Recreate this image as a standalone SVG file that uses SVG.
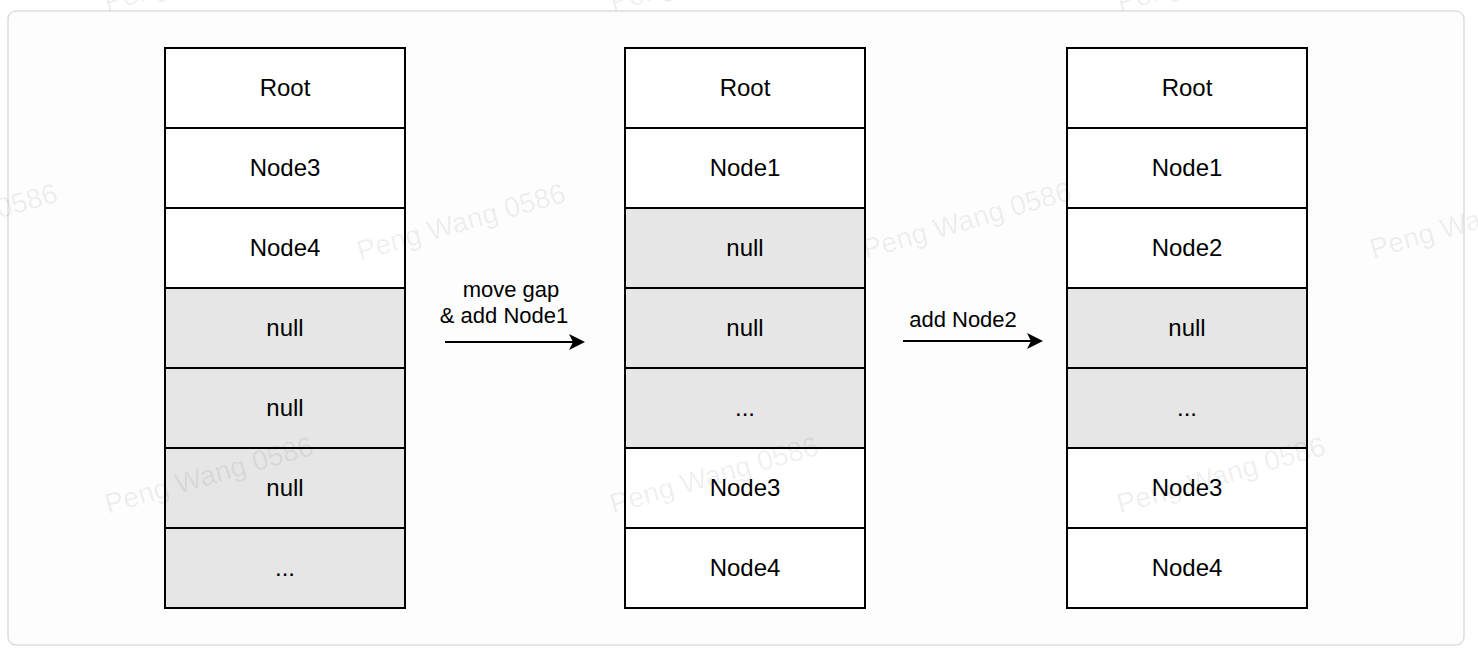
<svg xmlns="http://www.w3.org/2000/svg" width="1478" height="654" viewBox="0 0 1478 654">
  <defs>
    <style>
      .cell { stroke: #000; stroke-width: 2; fill: #ffffff; }
      .gray { fill: #e6e6e6; }
      .lbl { font-family: "Liberation Sans", Arial, Helvetica, sans-serif; font-size: 24px; fill: #000; text-anchor: middle; }
      .alb { font-family: "Liberation Sans", Arial, Helvetica, sans-serif; font-size: 22px; fill: #000; text-anchor: middle; }
      .conn { stroke: #000; stroke-width: 2; fill: none; }
      .wm { font-family: "Liberation Sans", Arial, Helvetica, sans-serif; font-size: 28px; fill: #000; fill-opacity: 0.07; text-anchor: middle; dominant-baseline: central; }
    </style>
    <marker id="arrow" viewBox="0 0 16 16" refX="9" refY="8" markerWidth="16" markerHeight="16" markerUnits="userSpaceOnUse" orient="auto">
      <path d="M0,0 L16,8 L0,16 L4,8 Z" fill="#000"/>
    </marker>
  </defs>

  <rect x="0" y="0" width="1478" height="654" fill="#ffffff"/>
  <rect x="8" y="11" width="1456" height="634" rx="8" ry="8" fill="#fdfdfd" stroke="#dcdde0" stroke-width="1.5"/>

  <!-- Column 1 -->
  <g id="col1">
    <g id="c1r1"><rect class="cell" x="165" y="48" width="240" height="80"/><text class="lbl" x="285" y="96">Root</text></g>
    <g id="c1r2"><rect class="cell" x="165" y="128" width="240" height="80"/><text class="lbl" x="285" y="176">Node3</text></g>
    <g id="c1r3"><rect class="cell" x="165" y="208" width="240" height="80"/><text class="lbl" x="285" y="256">Node4</text></g>
    <g id="c1r4"><rect class="cell gray" x="165" y="288" width="240" height="80"/><text class="lbl" x="285" y="336">null</text></g>
    <g id="c1r5"><rect class="cell gray" x="165" y="368" width="240" height="80"/><text class="lbl" x="285" y="416">null</text></g>
    <g id="c1r6"><rect class="cell gray" x="165" y="448" width="240" height="80"/><text class="lbl" x="285" y="496">null</text></g>
    <g id="c1r7"><rect class="cell gray" x="165" y="528" width="240" height="80"/><text class="lbl" x="285" y="576">...</text></g>
  </g>

  <!-- Column 2 -->
  <g id="col2">
    <g id="c2r1"><rect class="cell" x="625" y="48" width="240" height="80"/><text class="lbl" x="745" y="96">Root</text></g>
    <g id="c2r2"><rect class="cell" x="625" y="128" width="240" height="80"/><text class="lbl" x="745" y="176">Node1</text></g>
    <g id="c2r3"><rect class="cell gray" x="625" y="208" width="240" height="80"/><text class="lbl" x="745" y="256">null</text></g>
    <g id="c2r4"><rect class="cell gray" x="625" y="288" width="240" height="80"/><text class="lbl" x="745" y="336">null</text></g>
    <g id="c2r5"><rect class="cell gray" x="625" y="368" width="240" height="80"/><text class="lbl" x="745" y="416">...</text></g>
    <g id="c2r6"><rect class="cell" x="625" y="448" width="240" height="80"/><text class="lbl" x="745" y="496">Node3</text></g>
    <g id="c2r7"><rect class="cell" x="625" y="528" width="240" height="80"/><text class="lbl" x="745" y="576">Node4</text></g>
  </g>

  <!-- Column 3 -->
  <g id="col3">
    <g id="c3r1"><rect class="cell" x="1067" y="48" width="240" height="80"/><text class="lbl" x="1187" y="96">Root</text></g>
    <g id="c3r2"><rect class="cell" x="1067" y="128" width="240" height="80"/><text class="lbl" x="1187" y="176">Node1</text></g>
    <g id="c3r3"><rect class="cell" x="1067" y="208" width="240" height="80"/><text class="lbl" x="1187" y="256">Node2</text></g>
    <g id="c3r4"><rect class="cell gray" x="1067" y="288" width="240" height="80"/><text class="lbl" x="1187" y="336">null</text></g>
    <g id="c3r5"><rect class="cell gray" x="1067" y="368" width="240" height="80"/><text class="lbl" x="1187" y="416">...</text></g>
    <g id="c3r6"><rect class="cell" x="1067" y="448" width="240" height="80"/><text class="lbl" x="1187" y="496">Node3</text></g>
    <g id="c3r7"><rect class="cell" x="1067" y="528" width="240" height="80"/><text class="lbl" x="1187" y="576">Node4</text></g>
  </g>

  <!-- Connectors -->
  <g id="connectors">
    <g id="edge1">
      <line class="conn" x1="445" y1="342" x2="578" y2="342" marker-end="url(#arrow)"/>
      <text class="alb" x="511" y="297">move gap</text>
      <text class="alb" x="504" y="323">&amp; add Node1</text>
    </g>
    <g id="edge2">
      <line class="conn" x1="903" y1="341" x2="1036" y2="341" marker-end="url(#arrow)"/>
      <text class="alb" x="963" y="327">add Node2</text>
    </g>
  </g>

  <!-- Watermarks -->
  <g id="watermarks">
    <text class="wm" transform="translate(208,-27) rotate(-16)">Peng Wang 0586</text>
    <text class="wm" transform="translate(714,-27) rotate(-16)">Peng Wang 0586</text>
    <text class="wm" transform="translate(1221,-27) rotate(-16)">Peng Wang 0586</text>
    <text class="wm" transform="translate(-47,222) rotate(-16)">Peng Wang 0586</text>
    <text class="wm" transform="translate(461,222) rotate(-16)">Peng Wang 0586</text>
    <text class="wm" transform="translate(967,220) rotate(-16)">Peng Wang 0586</text>
    <text class="wm" transform="translate(1474,220) rotate(-16)">Peng Wang 0586</text>
    <text class="wm" transform="translate(209,475) rotate(-16)">Peng Wang 0586</text>
    <text class="wm" transform="translate(714,475) rotate(-16)">Peng Wang 0586</text>
    <text class="wm" transform="translate(1221,475) rotate(-16)">Peng Wang 0586</text>
  </g>
</svg>
